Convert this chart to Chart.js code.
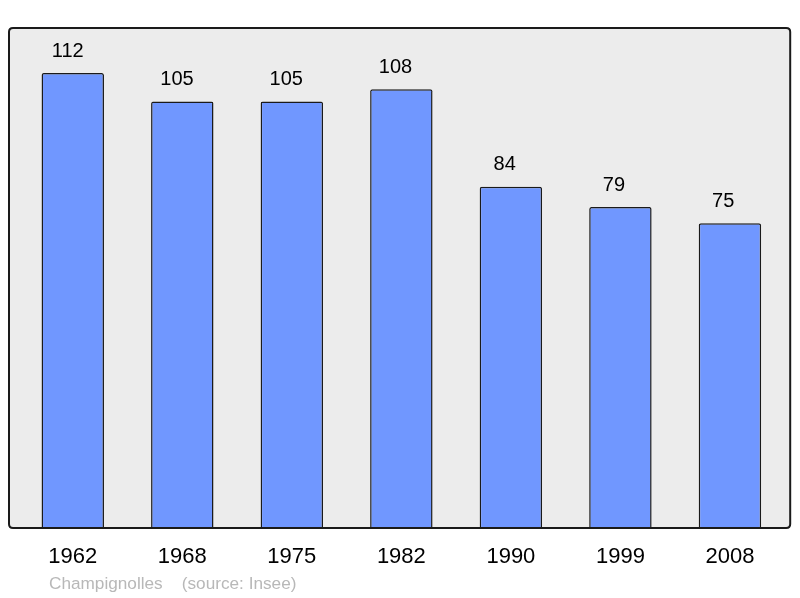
<!DOCTYPE html>
<html>
<head>
<meta charset="utf-8">
<script src="https://cdn.jsdelivr.net/npm/chart.js@4"></script>
<style>
    html, body { margin: 0; padding: 0; background: #fff; }
    #wrap { width: 800px; height: 598px; }
</style>
</head>
<body>
<div id="wrap"><canvas id="chart" width="800" height="598"></canvas></div>
<script>
const years = ["1962", "1968", "1975", "1982", "1990", "1999", "2008"];
const population = [112, 105, 105, 108, 84, 79, 75];
const footerText = "Champignolles    (source: Insee)";

const FONT = "'Liberation Sans', Arial, sans-serif";

// frame + value labels + footer
const decoPlugin = {
    id: "deco",
    beforeDatasetsDraw(chart) {
        const { ctx, chartArea: a } = chart;
        ctx.save();
        roundRect(ctx, a.left - 9, a.top, a.right - a.left + 14.5, a.bottom - a.top, 4);
        ctx.fillStyle = "#ececec";
        ctx.fill();
        ctx.restore();
    },
    afterDatasetsDraw(chart) {
        const { ctx, chartArea: a } = chart;
        ctx.save();
        roundRect(ctx, a.left - 9, a.top, a.right - a.left + 14.5, a.bottom - a.top, 4);
        ctx.lineWidth = 2;
        ctx.strokeStyle = "#1a1a1a";
        ctx.stroke();

        ctx.fillStyle = "#000";
        ctx.font = "20px " + FONT;
        ctx.textAlign = "center";
        ctx.textBaseline = "middle";
        const meta = chart.getDatasetMeta(0);
        meta.data.forEach((bar, i) => {
            ctx.fillText(String(population[i]), bar.x - 5 - 0.3 * i, bar.y - 22);
        });

        ctx.fillStyle = "#b8b8b8";
        ctx.font = "17.2px " + FONT;
        ctx.textAlign = "left";
        ctx.fillText(footerText, 49, 584);
        ctx.restore();
    },
};

function roundRect(ctx, x, y, w, h, r) {
    ctx.beginPath();
    ctx.moveTo(x + r, y);
    ctx.lineTo(x + w - r, y);
    ctx.quadraticCurveTo(x + w, y, x + w, y + r);
    ctx.lineTo(x + w, y + h - r);
    ctx.quadraticCurveTo(x + w, y + h, x + w - r, y + h);
    ctx.lineTo(x + r, y + h);
    ctx.quadraticCurveTo(x, y + h, x, y + h - r);
    ctx.lineTo(x, y + r);
    ctx.quadraticCurveTo(x, y, x + r, y);
    ctx.closePath();
}

new Chart(document.getElementById("chart"), {
    type: "bar",
    data: {
        labels: years,
        datasets: [{
            data: population,
            backgroundColor: "#7097ff",
            borderColor: "#1a1a1a",
            borderWidth: 1.5,
            borderRadius: 2,
            borderSkipped: "bottom",
            barPercentage: 0.57,
            categoryPercentage: 1,
        }],
    },
    options: {
        responsive: false,
        animation: false,
        devicePixelRatio: 1,
        layout: { padding: { left: 18, right: 15.3, top: 28, bottom: 0 } },
        plugins: {
            legend: { display: false },
            tooltip: { enabled: false },
        },
        scales: {
            y: { display: false, min: 0, max: 123.1 },
            x: {
                grid: { display: false, drawTicks: false },
                border: { display: false },
                ticks: {
                    color: "#000",
                    padding: 16,
                    font: { family: FONT, size: 22 },
                },
                afterFit(scale) { scale.height = 70; },
            },
        },
    },
    plugins: [decoPlugin],
});
</script>
</body>
</html>
